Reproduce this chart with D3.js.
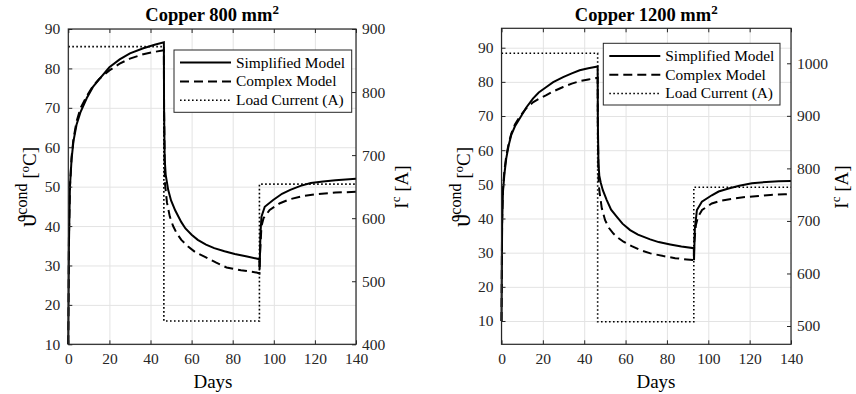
<!DOCTYPE html>
<html>
<head>
<meta charset="utf-8">
<script src="https://cdn.jsdelivr.net/npm/d3@7"></script>
<style>
  body { margin: 0; background: #fff; }
</style>
</head>
<body>
<svg id="chart" width="856" height="394"></svg>
<script>
// 1. Data  ([day, value] pairs)
const legendLabels = ["Simplified Model", "Complex Model", "Load Current (A)"];
const xTicks = [0, 20, 40, 60, 80, 100, 120, 140];
const tempTicks = [10, 20, 30, 40, 50, 60, 70, 80, 90];

const cu800Simplified = [[0,10],[0.3,35],[0.8,50],[1.6,57],[2.5,61.5],[4,65.7],[6,69],[9,72.5],[12,75.3],[15.4,77.5],[20,80.3],[25,82.3],[30,83.8],[36.5,85.1],[42,86],[46.5,86.6],[46.6,70],[46.9,57],[47.4,53],[48.6,49.2],[50,46.5],[52,44],[55,41],[57,39.4],[60,37.8],[63,36.5],[67,35.3],[71,34.4],[76,33.6],[81,32.9],[87,32.3],[93,31.6],[93.1,29],[93.5,38],[94,42.4],[95.6,44.9],[99.7,46.6],[104,48.2],[108,49.2],[113,50.2],[118,50.9],[124,51.3],[130,51.6],[135,51.8],[140,52]];
const cu800Complex = [[0,10],[0.3,37],[0.8,50],[1.6,57.5],[2.5,62],[4,66.5],[6,70],[9,73],[12,75.5],[15,77.3],[20,79.5],[25,81.2],[30,82.5],[36.5,83.6],[42,84.2],[46.5,84.6],[46.6,70],[47,51],[48,46],[49.4,42.4],[51,40],[52.7,38.2],[55,36.5],[58.3,34.8],[62,33.3],[66.5,32.2],[72,30.7],[77,29.5],[84,28.8],[91.6,28.2],[93,28],[93.2,32],[94,40],[95,42],[98,44.1],[103,45.8],[107.8,46.8],[114,47.6],[120.8,48.1],[130,48.5],[140,48.7]];
const cu800Current = [[0,872],[46.5,872],[46.5,437],[93,437],[93,654],[140,654]];

const cu1200Simplified = [[0,10],[0.3,38],[0.7,47.8],[1.4,53],[2.3,57.6],[3.5,61.5],[4.7,64.4],[6.5,67],[8.8,69.3],[12,72.5],[15.2,75.1],[18,76.9],[21.7,78.5],[25,79.9],[29.8,81.4],[34,82.5],[37.8,83.4],[42,84],[46.5,84.5],[46.6,68],[46.9,56],[47.3,52.5],[48,50.5],[49,48.3],[50.9,45.4],[53,42.6],[55.8,40.5],[58.5,38.5],[62.2,36.6],[66,35.3],[71.9,33.9],[76,33.1],[81.6,32.4],[87,31.8],[93,31.3],[93.1,27.8],[93.5,37],[94.5,42.5],[96.9,44.9],[101.7,46.8],[105,47.9],[109.8,48.8],[115,49.6],[121.1,50.3],[128,50.7],[134,50.9],[140,51]];
const cu1200Complex = [[0,10],[0.3,40],[0.7,48.5],[1.4,54],[2.3,58.3],[3.5,62],[4.7,64.8],[6.5,67.5],[8.8,69.8],[12,72.3],[15.2,74],[18,75],[21.7,76.1],[25,77.2],[29.8,78.5],[34,79.5],[37.8,80.2],[42,80.7],[46.5,81.2],[46.6,65],[47,50],[47.5,47.3],[48.5,43],[50.1,39.5],[52,37.2],[54.1,35.6],[56.5,34.3],[59,33.2],[63,31.9],[67,30.8],[72,29.8],[78.3,29],[84,28.4],[89.6,28],[93,27.8],[93.2,33],[94,38],[95,40.5],[97,42.5],[101.7,44.4],[106,45.2],[113,45.9],[118,46.3],[124.3,46.6],[130,46.9],[137,47.1],[140,47.2]];
const cu1200Current = [[0,1019],[46.5,1019],[46.5,508],[93,508],[93,764],[140,764]];

const panels = [
  {
    title: "Copper 800 mm", xlabelX: 213,
    left: 68.3, right: 356, top: 29, bottom: 344.3,
    tempDomain: [10, 90], curDomain: [400, 900],
    curTicks: [400, 500, 600, 700, 800, 900],
    simplified: cu800Simplified, complex: cu800Complex, current: cu800Current,
    legend: { x: 174, y: 50, w: 177.7, h: 62.3 },
    ylabelX: 36, ylabel2X: 408,
  },
  {
    title: "Copper 1200 mm", xlabelX: 656,
    left: 501.5, right: 791, top: 28.3, bottom: 344.3,
    tempDomain: [3.18, 95.68], curDomain: [465.2, 1066.6],
    curTicks: [500, 600, 700, 800, 900, 1000],
    simplified: cu1200Simplified, complex: cu1200Complex, current: cu1200Current,
    legend: { x: 603.3, y: 43.3, w: 176.7, h: 61.7 },
    ylabelX: 470, ylabel2X: 848,
  },
];

const font = '"Liberation Serif", "Times New Roman", serif';
const svg = d3.select("#chart").style("font-family", font);
const axisColor = "#262626";
const dotted = "1.6,2.4";

panels.forEach(drawPanel);

function drawPanel(p) {
  const w = p.right - p.left;
  const h = p.bottom - p.top;
  const g = svg.append("g").attr("transform", `translate(${p.left},${p.top})`);

  // 2. Scales
  const xScale = d3.scaleLinear().domain([0, 140]).range([0, w]);
  const yScale = d3.scaleLinear().domain(p.tempDomain).range([h, 0]);
  const y2Scale = d3.scaleLinear().domain(p.curDomain).range([h, 0]);

  // 3. Grid
  const gridX = g.append("g")
    .attr("transform", `translate(0,${h})`)
    .call(d3.axisBottom(xScale).tickValues(xTicks).tickSize(-h).tickFormat(""));
  const gridY = g.append("g")
    .call(d3.axisLeft(yScale).tickValues(tempTicks).tickSize(-w).tickFormat(""));
  [gridX, gridY].forEach((gr) => {
    gr.select(".domain").remove();
    gr.selectAll("line").attr("stroke", "#e3e3e3").attr("stroke-width", 1);
  });

  // 4. Lines
  const tempLine = d3.line().x((d) => xScale(d[0])).y((d) => yScale(d[1]));
  const curLine = d3.line().x((d) => xScale(d[0])).y((d) => y2Scale(d[1]));

  g.append("path").datum(p.current).attr("d", curLine)
    .attr("fill", "none").attr("stroke", "#000")
    .attr("stroke-width", 1.6).attr("stroke-dasharray", dotted);
  g.append("path").datum(p.complex).attr("d", tempLine)
    .attr("fill", "none").attr("stroke", "#000")
    .attr("stroke-width", 2).attr("stroke-dasharray", "9,5");
  g.append("path").datum(p.simplified).attr("d", tempLine)
    .attr("fill", "none").attr("stroke", "#000")
    .attr("stroke-width", 2);

  // 5. Axes (ticks inward, MATLAB style)
  const styleAxis = (ax) => {
    ax.attr("font-family", font).attr("font-size", 15.5);
    ax.select(".domain").remove();
    ax.selectAll("line").attr("stroke", axisColor);
    ax.selectAll("text").attr("fill", axisColor);
  };
  const xAxis = g.append("g").attr("transform", `translate(0,${h})`)
    .call(d3.axisBottom(xScale).tickValues(xTicks).tickSize(-4).tickSizeOuter(0).tickPadding(9));
  styleAxis(xAxis);
  const xAxisTop = g.append("g")
    .call(d3.axisTop(xScale).tickValues(xTicks).tickSize(-4).tickSizeOuter(0).tickFormat(""));
  styleAxis(xAxisTop);
  const yAxis = g.append("g")
    .call(d3.axisLeft(yScale).tickValues(tempTicks).tickSize(-4).tickSizeOuter(0).tickPadding(8));
  styleAxis(yAxis);
  const y2Axis = g.append("g").attr("transform", `translate(${w},0)`)
    .call(d3.axisRight(y2Scale).tickValues(p.curTicks).tickFormat(d3.format("d"))
      .tickSize(-4).tickSizeOuter(0).tickPadding(6));
  styleAxis(y2Axis);

  g.append("rect")
    .attr("width", w).attr("height", h)
    .attr("fill", "none").attr("stroke", axisColor).attr("stroke-width", 1.2);

  // 6. Labels
  const title = svg.append("text")
    .attr("x", (p.left + p.right) / 2).attr("y", 21)
    .attr("text-anchor", "middle")
    .style("font-size", "18.5px").style("font-weight", "bold").attr("fill", "#000");
  title.append("tspan").text(p.title);
  title.append("tspan").attr("dy", -7).style("font-size", "13px").text("2");

  svg.append("text")
    .attr("x", p.xlabelX).attr("y", 388)
    .attr("text-anchor", "middle")
    .style("font-size", "19px").attr("fill", "#000")
    .text("Days");

  const yl = svg.append("text")
    .attr("transform", `translate(${p.ylabelX},187) rotate(-90)`)
    .attr("text-anchor", "middle")
    .style("font-size", "19px").attr("fill", "#000");
  yl.append("tspan").style("font-size", "25px").text("ϑ");
  yl.append("tspan").attr("dy", -9).style("font-size", "16px").text("cond");
  yl.append("tspan").attr("dy", 9).text("  [");
  yl.append("tspan").attr("dy", -7).style("font-size", "13px").text("o");
  yl.append("tspan").attr("dy", 7).text("C]");

  const yl2 = svg.append("text")
    .attr("transform", `translate(${p.ylabel2X},187) rotate(-90)`)
    .attr("text-anchor", "middle")
    .style("font-size", "19px").attr("fill", "#000");
  yl2.append("tspan").text("I");
  yl2.append("tspan").attr("dy", -8).style("font-size", "13px").text("c");
  yl2.append("tspan").attr("dy", 8).text(" [A]");

  // 7. Legend
  const lg = svg.append("g").attr("transform", `translate(${p.legend.x},${p.legend.y})`);
  lg.append("rect")
    .attr("width", p.legend.w).attr("height", p.legend.h)
    .attr("fill", "#fff").attr("stroke", axisColor).attr("stroke-width", 1);
  const dashes = [null, "9,5", dotted];
  const widths = [2, 2, 1.6];
  legendLabels.forEach((label, i) => {
    const cy = 12.6 + i * 18.8;
    lg.append("line")
      .attr("x1", 6).attr("x2", 57).attr("y1", cy).attr("y2", cy)
      .attr("stroke", "#000").attr("stroke-width", widths[i])
      .attr("stroke-dasharray", dashes[i]);
    lg.append("text")
      .attr("x", 62).attr("y", cy + 5)
      .style("font-size", "15.4px").attr("fill", "#000")
      .text(label);
  });
}
</script>
</body>
</html>
